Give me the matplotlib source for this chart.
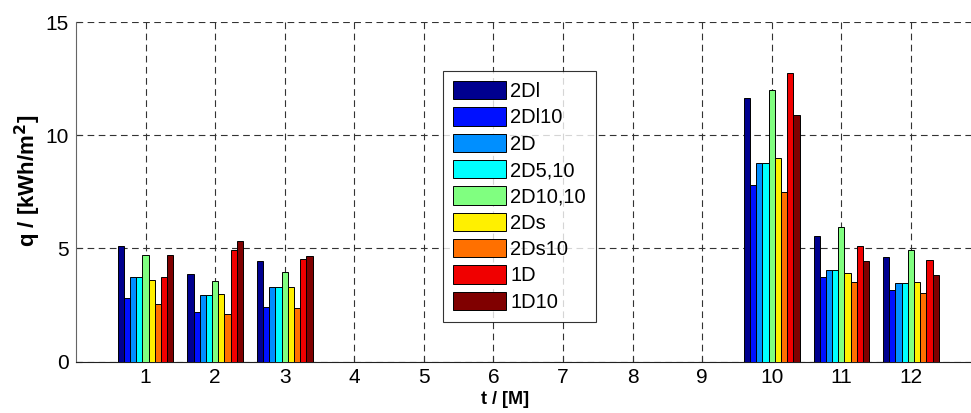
import numpy as np
import matplotlib
matplotlib.use('Agg')
import matplotlib.pyplot as plt

plt.rcParams['font.family'] = ['Liberation Sans', 'DejaVu Sans']

months = np.arange(1, 13)
names = ['2Dl', '2Dl10', '2D', '2D5,10', '2D10,10', '2Ds', '2Ds10', '1D', '1D10']

# monthly values, months 4..9 are zero
q_2Dl = [5.09, 3.88, 4.42, 0, 0, 0, 0, 0, 0, 11.66, 5.53, 4.60]
q_2Dl10 = [2.81, 2.17, 2.40, 0, 0, 0, 0, 0, 0, 7.82, 3.74, 3.16]
q_2D = [3.72, 2.92, 3.27, 0, 0, 0, 0, 0, 0, 8.79, 4.03, 3.46]
q_2D5_10 = [3.72, 2.92, 3.27, 0, 0, 0, 0, 0, 0, 8.79, 4.03, 3.46]
q_2D10_10 = [4.69, 3.55, 3.94, 0, 0, 0, 0, 0, 0, 12.00, 5.96, 4.93]
q_2Ds = [3.62, 2.97, 3.27, 0, 0, 0, 0, 0, 0, 9.01, 3.90, 3.50]
q_2Ds10 = [2.56, 2.12, 2.35, 0, 0, 0, 0, 0, 0, 7.51, 3.50, 3.04]
q_1D = [3.72, 4.91, 4.55, 0, 0, 0, 0, 0, 0, 12.76, 5.09, 4.49]
q_1D10 = [4.69, 5.34, 4.64, 0, 0, 0, 0, 0, 0, 10.87, 4.43, 3.81]

series = [q_2Dl, q_2Dl10, q_2D, q_2D5_10, q_2D10_10, q_2Ds, q_2Ds10, q_1D, q_1D10]

# matlab jet(64) picks
colors = [(0, 0, 0.5625), (0, 0.0625, 1), (0, 0.5625, 1), (0, 1, 1),
          (0.5, 1, 0.5), (1, 0.94, 0), (1, 0.44, 0), (0.94, 0, 0), (0.5, 0, 0)]

fig = plt.figure(figsize=(9.71, 4.13), dpi=100)
ax = fig.add_axes([76 / 971, 1 - 361.5 / 413, 904.5 / 971, 339.5 / 413])

n = len(series)
w = 0.8 / n
for i, (vals, c, lab) in enumerate(zip(series, colors, names)):
    off = (i - (n - 1) / 2) * w
    ax.bar(months + off, vals, width=w, color=c, edgecolor='black',
           linewidth=0.7, label=lab, zorder=3)

ax.set_xlim(0, 13)
ax.set_ylim(0, 15)
ax.set_xticks(months)
ax.set_yticks([0, 5, 10, 15])
ax.tick_params(direction='in', length=4, labelsize=15, colors='#333333',
               labelcolor='black', pad=5)
ax.grid(True, color='#333333', linestyle=(0, (6, 4)), linewidth=0.8, zorder=0)
for s in ['top', 'right']:
    ax.spines[s].set_visible(False)
ax.spines['left'].set_color('#666666')
ax.spines['bottom'].set_color('#222222')

ax.set_xlabel('t / [M]', fontsize=13, fontweight='bold')
ax.xaxis.set_label_coords((505 - 76) / 904.5, -(400 - 361.5) / 339.5)
ax.xaxis.label.set_va('center')
ax.set_ylabel('q / [kWh/m$^\\mathbf{2}$]', fontsize=16, fontweight='bold')
ax.yaxis.set_label_coords(-(76 - 28) / 904.5, (361.5 - 181) / 339.5)
ax.yaxis.label.set_va('center')

leg = ax.legend(loc='upper left', bbox_to_anchor=(367 / 904.5, 1 - 49 / 339.5),
                fontsize=14.5, frameon=True, fancybox=False, edgecolor='black',
                handlelength=2.64, handleheight=1.03, labelspacing=0.31,
                borderpad=0.5, handletextpad=0.2, borderaxespad=0)
leg.get_frame().set_linewidth(0.8)

fig.savefig('out.png', dpi=100)
